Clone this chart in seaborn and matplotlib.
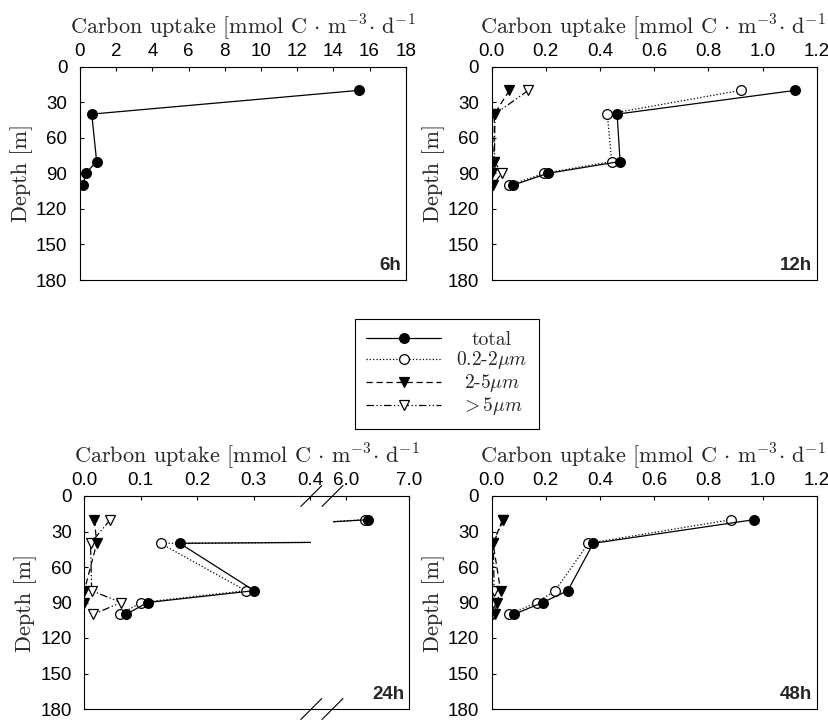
import numpy as np
import pandas as pd
import matplotlib
matplotlib.use("Agg")
import matplotlib.pyplot as plt
import seaborn as sns
from matplotlib.lines import Line2D

# ---------------- data ----------------
depth = [20, 40, 80, 90, 100]

total_6h = [15.4, 0.65, 0.92, 0.31, 0.17]

total_12h = [1.12, 0.463, 0.474, 0.207, 0.078]
pico_12h = [0.919, 0.427, 0.443, 0.194, 0.064]
nano_12h = [0.065, 0.010, 0.008, 0.000, 0.002]
micro_12h = [0.135, 0.012, 0.010, 0.037, 0.004]

total_24h = [6.355, 0.169, 0.301, 0.112, 0.074]
pico_24h = [6.300, 0.135, 0.286, 0.101, 0.063]
nano_24h = [0.018, 0.022, 0.000, 0.000, np.nan]
micro_24h = [0.046, 0.011, 0.013, 0.065, 0.016]

total_48h = [0.969, 0.375, 0.281, 0.188, 0.082]
pico_48h = [0.884, 0.357, 0.234, 0.166, 0.065]
nano_48h = [0.040, 0.005, 0.033, 0.018, 0.012]
micro_48h = [0.043, 0.006, 0.009, 0.004, 0.004]

series_labels = ["total", r"0.2-2$\mu m$", r"2-5$\mu m$", r"$> 5\mu m$"]
panel_tags = ["6h", "12h", "24h", "48h"]
depth_ticks = [0, 30, 60, 90, 120, 150, 180]

# ---------------- style ----------------
sns.set_theme(style="ticks")
plt.rcParams.update({
    "font.family": ["Liberation Sans", "DejaVu Sans"],
    "mathtext.fontset": "cm",
    "axes.edgecolor": "black",
    "axes.linewidth": 0.8,
    "xtick.color": "black",
    "ytick.color": "black",
})
TICK_FS = 13.5
LABEL_FS = 16
LEG_FS = 14
SERIF = ["cmr10", "DejaVu Serif"]

styles = {
    "total": dict(linestyle="-", marker="o", markerfacecolor="black"),
    "pico": dict(linestyle=":", marker="o", markerfacecolor="white"),
    "nano": dict(linestyle=(0, (5, 3)), marker="v", markerfacecolor="black"),
    "micro": dict(linestyle=(0, (6, 2, 1, 2, 1, 2)), marker="v", markerfacecolor="white"),
}

W, H = 829, 722
fig = plt.figure(figsize=(W / 100, H / 100), dpi=100)


def px_axes(l, t, r, b):
    return fig.add_axes([l / W, 1 - b / H, (r - l) / W, (b - t) / H])


def draw(ax, values, key):
    df = pd.DataFrame({"x": values, "depth": depth}).dropna()
    st = styles[key]
    sns.lineplot(data=df, x="x", y="depth", ax=ax, sort=False, estimator=None,
                 color="black", linewidth=0.9, markersize=7,
                 markeredgecolor="black", markeredgewidth=0.9, **st)


def style_axes(ax, left_labels=True):
    ax.set_ylim(180, 0)
    ax.set_yticks(depth_ticks)
    ax.xaxis.tick_top()
    ax.xaxis.set_label_position("top")
    ax.tick_params(axis="x", direction="in", length=3, width=0.8, pad=5,
                   labelsize=TICK_FS, top=True, bottom=False)
    ax.tick_params(axis="y", direction="in", length=3, width=0.8, pad=9,
                   labelsize=TICK_FS, left=left_labels, labelleft=left_labels)
    ax.set_xlabel("")
    ax.set_ylabel("")
    for s in ax.spines.values():
        s.set_visible(True)
        s.set_color("black")
        s.set_linewidth(0.8)


XLABEL = r"Carbon uptake [mmol C $\cdot$ m$^{-3}$$\cdot$ d$^{-1}$"


def add_labels(ax, width_px, center_px=None):
    ax.set_xlabel(XLABEL, fontsize=LABEL_FS, family=SERIF)
    cx = 0.5 if center_px is None else center_px / width_px
    ax.xaxis.set_label_coords(cx, 1 + 33 / 213)
    ax.set_ylabel("Depth [m]", fontsize=LABEL_FS, family=SERIF)
    ax.yaxis.set_label_coords(-47 / width_px, 0.5)


def add_tag(ax, tag):
    ax.annotate(tag, xy=(1, 0), xycoords="axes fraction", xytext=(-5, 6),
                textcoords="offset pixels", ha="right", va="bottom",
                fontsize=13.5, fontweight="bold")


fmt1 = matplotlib.ticker.FormatStrFormatter("%.1f")

# ---- panel 6h ----
ax1 = px_axes(80, 66.7, 405.7, 280)
draw(ax1, total_6h, "total")
style_axes(ax1)
ax1.set_xlim(0, 18)
ax1.set_xticks(np.arange(0, 19, 2))
add_labels(ax1, 325.7)
add_tag(ax1, panel_tags[0])

# ---- panel 12h ----
ax2 = px_axes(491.7, 66.7, 816.7, 280)
for vals, key in [(micro_12h, "micro"), (nano_12h, "nano"), (pico_12h, "pico"), (total_12h, "total")]:
    draw(ax2, vals, key)
style_axes(ax2)
ax2.set_xlim(0, 1.2)
ax2.set_xticks(np.arange(0, 1.21, 0.2))
ax2.xaxis.set_major_formatter(fmt1)
add_labels(ax2, 325, center_px=323 - 491.7 + 330)
add_tag(ax2, panel_tags[1])

# ---- panel 24h (broken x axis) ----
L0, L1, R0, R1 = 84.3, 311.3, 333.0, 409.3
T3, B3 = 496, 709
ax3 = px_axes(L0, T3, L1, B3)
ax3r = px_axes(R0, T3, R1, B3)
for a in (ax3, ax3r):
    for vals, key in [(micro_24h, "micro"), (nano_24h, "nano"), (pico_24h, "pico"), (total_24h, "total")]:
        draw(a, vals, key)
style_axes(ax3)
style_axes(ax3r, left_labels=False)
ax3.set_xlim(0, 0.402)
ax3.set_xticks([0, 0.1, 0.2, 0.3, 0.4])
ax3.xaxis.set_major_formatter(fmt1)
ax3r.set_xlim(5.8, 7.0)
ax3r.set_xticks([6.0, 7.0])
ax3r.xaxis.set_major_formatter(fmt1)
ax3.spines["right"].set_visible(False)
ax3r.spines["left"].set_visible(False)
add_labels(ax3, L1 - L0, center_px=(L0 + R1) / 2 - L0)
add_tag(ax3r, panel_tags[2])

# bridge spines and break marks
for ypx in (T3, B3):
    fig.add_artist(Line2D([L1 / W, R0 / W], [1 - ypx / H, 1 - ypx / H],
                          transform=fig.transFigure, color="black", lw=0.8))
    for xc in (L1, R0 - 0.5):
        d = 10.5
        fig.add_artist(Line2D([(xc - d) / W, (xc + d) / W],
                              [1 - (ypx + d) / H, 1 - (ypx - d) / H],
                              transform=fig.transFigure, color="black", lw=0.8))

# ---- panel 48h ----
ax4 = px_axes(491.7, T3, 816.7, B3)
for vals, key in [(micro_48h, "micro"), (nano_48h, "nano"), (pico_48h, "pico"), (total_48h, "total")]:
    draw(ax4, vals, key)
style_axes(ax4)
ax4.set_xlim(0, 1.2)
ax4.set_xticks(np.arange(0, 1.21, 0.2))
ax4.xaxis.set_major_formatter(fmt1)
add_labels(ax4, 325, center_px=323 - 491.7 + 330)
add_tag(ax4, panel_tags[3])

# ---- legend ----
handles = []
for key, lab in zip(["total", "pico", "nano", "micro"], series_labels):
    handles.append(Line2D([], [], color="black", linewidth=0.9, markersize=7,
                          markeredgecolor="black", markeredgewidth=0.9,
                          label=lab, **styles[key]))
leg = fig.legend(handles=handles, loc="center",
                 bbox_to_anchor=(447 / W, 1 - 374 / H),
                 prop={"family": SERIF, "size": LEG_FS},
                 frameon=True, fancybox=False, edgecolor="black",
                 framealpha=1, handlelength=3.85, handletextpad=0.77,
                 labelspacing=0.05, borderpad=0.6)
leg.get_frame().set_linewidth(0.8)

# centre the legend labels within their column (as in the reference)
fig.canvas.draw()
renderer = fig.canvas.get_renderer()
widths = [t.get_window_extent(renderer).width for t in leg.texts]
wmax = max(widths)
for t, w in zip(leg.texts, widths):
    t.set_x((wmax - w) / 2)

fig.savefig("out.png", dpi=100)
